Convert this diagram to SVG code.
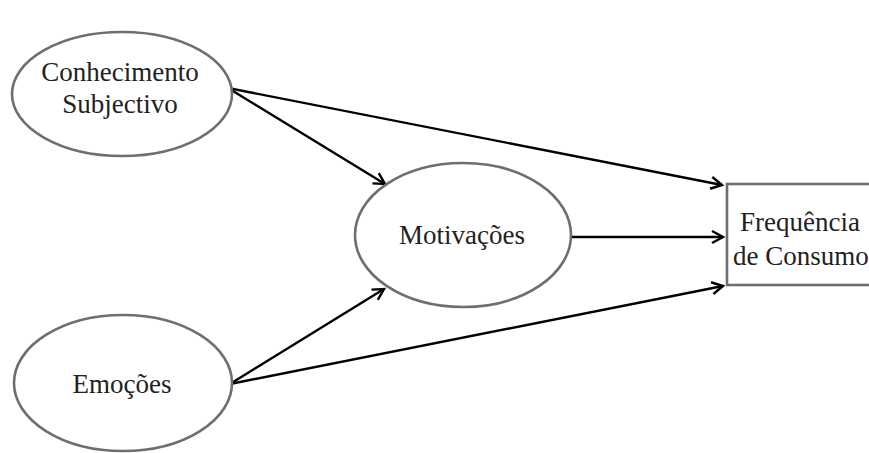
<svg xmlns="http://www.w3.org/2000/svg" width="869" height="453" viewBox="0 0 869 453">
<defs>
<marker id="arr" markerWidth="16" markerHeight="16" refX="13" refY="8" orient="auto" markerUnits="userSpaceOnUse">
<path d="M2,2 L13,8 L2,14" fill="none" stroke="#000" stroke-width="2.4" stroke-linejoin="miter"/>
</marker>
<style>
.node{fill:#fff;stroke:#6e6e6e;stroke-width:2.6}
.lbl{font-size:27px;fill:#222;text-anchor:middle}
.edge{stroke:#000;stroke-width:2.4;fill:none;marker-end:url(#arr)}
</style>
</defs>
<rect width="869" height="453" fill="#fff"/>
<g id="connectors">
<line class="edge" x1="228" y1="88" x2="722" y2="185"/>
<line class="edge" x1="228" y1="88" x2="385" y2="184"/>
<line class="edge" x1="572" y1="237" x2="723" y2="237"/>
<line class="edge" x1="230" y1="384" x2="384" y2="289"/>
<line class="edge" x1="230" y1="384" x2="723" y2="286"/>
</g>
<g font-family="'Liberation Serif', 'Times New Roman', 'DejaVu Serif', serif">
<g id="conhecimento">
<ellipse class="node" cx="122" cy="94" rx="110" ry="62"/>
<text class="lbl" x="120" y="81">Conhecimento</text>
<text class="lbl" x="120" y="113">Subjectivo</text>
</g>
<g id="motivacoes">
<ellipse class="node" cx="463" cy="235" rx="108" ry="72"/>
<text class="lbl" x="462" y="244">Motivações</text>
</g>
<g id="emocoes">
<ellipse class="node" cx="123" cy="383" rx="109" ry="68"/>
<text class="lbl" x="122" y="393">Emoções</text>
</g>
<g id="frequencia">
<rect class="node" x="727" y="184" width="170" height="101" stroke-width="3"/>
<text class="lbl" x="800" y="231">Frequência</text>
<text class="lbl" x="801" y="265">de Consumo</text>
</g>
</g>
</svg>
